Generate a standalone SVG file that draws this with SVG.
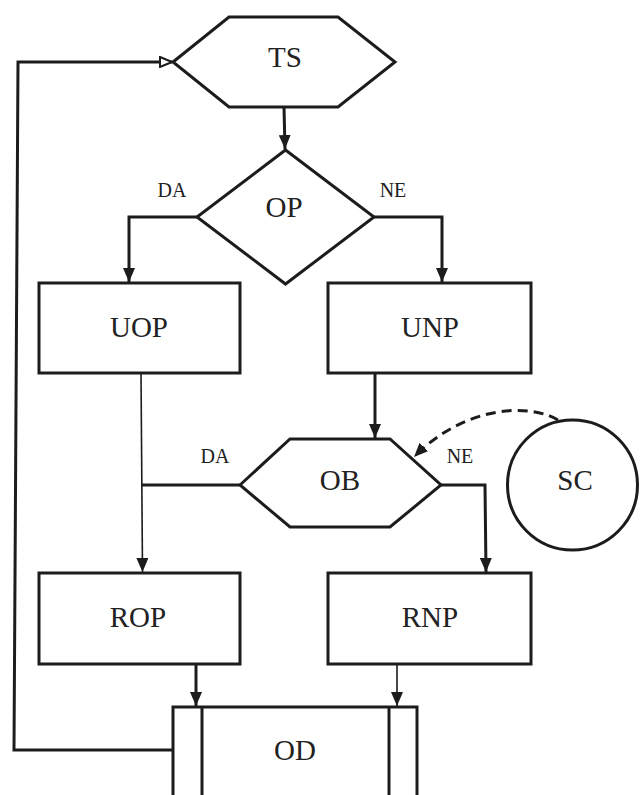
<svg xmlns="http://www.w3.org/2000/svg" width="640" height="795" viewBox="0 0 640 795">
<defs>
<style>
.shape{fill:#fff;stroke:#1c1c1c;stroke-width:3;stroke-linejoin:miter}
.line{fill:none;stroke:#1c1c1c;stroke-width:3}
.thin{fill:none;stroke:#1c1c1c;stroke-width:1.6}
.dash{fill:none;stroke:#1c1c1c;stroke-width:3;stroke-dasharray:10 6}
.t{font-family:"Liberation Serif","Times New Roman",serif;font-size:29px;fill:#222;text-anchor:middle}
.l{font-family:"Liberation Serif","Times New Roman",serif;font-size:20px;fill:#222;text-anchor:middle}
</style>
<marker id="ah" markerUnits="userSpaceOnUse" viewBox="0 0 14 12" refX="14" refY="6" markerWidth="14" markerHeight="12" orient="auto">
<path d="M0,0 L14,6 L0,12 Z" fill="#1c1c1c"/>
</marker>
<marker id="ahs" markerUnits="userSpaceOnUse" viewBox="0 0 12 10" refX="12" refY="5" markerWidth="12" markerHeight="10" orient="auto">
<path d="M0,0 L12,5 L0,10 Z" fill="#1c1c1c"/>
</marker>
<marker id="aho" markerUnits="userSpaceOnUse" viewBox="0 0 14 12" refX="13" refY="6" markerWidth="14" markerHeight="12" orient="auto">
<path d="M1,1 L13,6 L1,11 Z" fill="#fff" stroke="#1c1c1c" stroke-width="2"/>
</marker>
</defs>
<rect width="640" height="795" fill="#fff"/>

<g id="connectors">
<path class="line" d="M284,107 L285,149" marker-end="url(#ah)"/>
<path class="line" d="M197,217 L129,217 L129,282" marker-end="url(#ah)"/>
<path class="line" d="M374,217 L442,217 L442,282" marker-end="url(#ah)"/>
<path class="line" d="M375,373 L375,438" marker-end="url(#ah)"/>
<path class="line" d="M240,485 L141,485"/>
<path class="thin" d="M141,373 L142.5,572" marker-end="url(#ah)"/>
<path class="line" d="M441,485 L485,485 L486,572" marker-end="url(#ah)"/>
<path class="line" d="M196,664 L196,706" marker-end="url(#ah)"/>
<path class="thin" d="M397,664 L397,706" marker-end="url(#ah)"/>
<path class="line" d="M173,750 L14,750 L18,62 L172,62" marker-end="url(#aho)"/>
<path class="dash" d="M558,420 C530,403 465,405 414,457" marker-end="url(#ah)"/>
</g>

<g id="TS">
<polygon class="shape" points="173,62 229,17 338,17 395,62 338,107 229,107"/>
<text class="t" x="285" y="67">TS</text>
</g>
<g id="OP">
<polygon class="shape" points="285.5,150 374,217 285.5,284 197,217"/>
<text class="t" x="284" y="217">OP</text>
<text class="l" x="172" y="197">DA</text>
<text class="l" x="393" y="197">NE</text>
</g>
<g id="UOP">
<rect class="shape" x="39" y="283" width="201" height="90"/>
<text class="t" x="139" y="337">UOP</text>
</g>
<g id="UNP">
<rect class="shape" x="328" y="283" width="203" height="90"/>
<text class="t" x="430" y="337">UNP</text>
</g>
<g id="OB">
<polygon class="shape" points="240,485 290,439 390,439 441,485 390,527 290,527"/>
<text class="t" x="340" y="490">OB</text>
<text class="l" x="215" y="463">DA</text>
<text class="l" x="460" y="463">NE</text>
</g>
<g id="SC">
<circle class="shape" cx="572.5" cy="485" r="65"/>
<text class="t" x="575" y="490">SC</text>
</g>
<g id="ROP">
<rect class="shape" x="39" y="573" width="201" height="91"/>
<text class="t" x="138" y="627">ROP</text>
</g>
<g id="RNP">
<rect class="shape" x="328" y="573" width="203" height="91"/>
<text class="t" x="430" y="627">RNP</text>
</g>
<g id="OD">
<rect class="shape" x="173" y="707" width="244" height="100"/>
<line class="line" x1="202" y1="707" x2="202" y2="800"/>
<line class="line" x1="389" y1="707" x2="389" y2="800"/>
<text class="t" x="295" y="760">OD</text>
</g>
</svg>
